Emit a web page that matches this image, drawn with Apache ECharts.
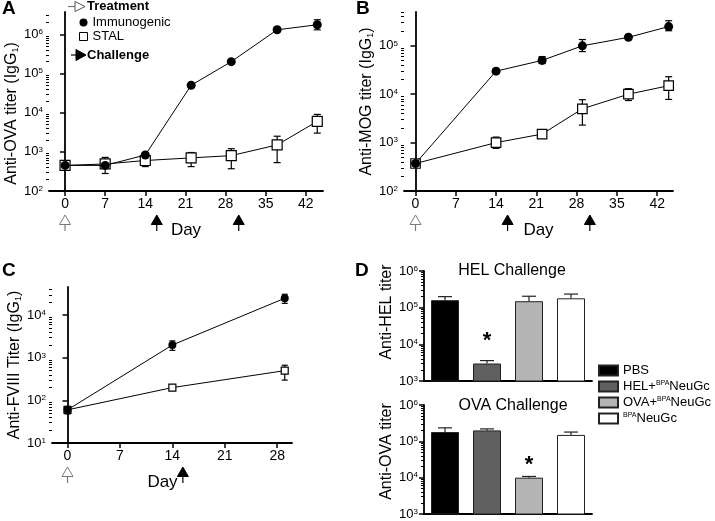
<!DOCTYPE html>
<html><head><meta charset="utf-8">
<script src="https://cdn.jsdelivr.net/npm/echarts@6/dist/echarts.min.js"></script>
<style>html,body{margin:0;padding:0;background:#fff}#c{width:715px;height:521px}</style>
</head><body><div id="c"></div>
<script>
const FONT = "'Liberation Sans', Arial, Helvetica, sans-serif";

// ---------- Panel A : anti-OVA ----------
const daysA = [0, 7, 14, 22, 29, 37, 44];
const immunoA = [450, 450, 830, 50000, 200000, 1300000, 1750000];
const immunoA_lo = [420, 400, 760, 45000, 185000, 1200000, 1300000];
const immunoA_hi = [480, 500, 900, 55000, 215000, 1400000, 2350000];
const stalA = [450, 490, 600, 700, 800, 1500, 6000];
const stalA_lo = [420, 280, 420, 420, 370, 530, 3000];
const stalA_hi = [480, 720, 950, 960, 1200, 2500, 9000];
const treatA = [0];
const challengeA = [16, 30.3];

// ---------- Panel B : anti-MOG ----------
const daysB = [0, 14, 22, 29, 37, 44];
const immunoB = [370, 30000, 50000, 100000, 150000, 250000];
const immunoB_lo = [340, 27000, 43000, 76000, 140000, 205000];
const immunoB_hi = [400, 33000, 60000, 135000, 160000, 330000];
const stalB = [370, 1000, 1500, 5000, 10000, 15000];
const stalB_lo = [340, 760, 1350, 2300, 7400, 7800];
const stalB_hi = [400, 1300, 1650, 7700, 13000, 23000];
const treatB = [0];
const challengeB = [16, 30.3];

// ---------- Panel C : anti-FVIII ----------
const daysC = [0, 14, 29];
const immunoC = [60, 2000, 25000];
const immunoC_lo = [48, 1500, 19000];
const immunoC_hi = [72, 2500, 31000];
const stalC = [60, 200, 500];
const stalC_lo = [50, 185, 300];
const stalC_hi = [70, 215, 670];
const treatC = [0];
const challengeC = [15.4];

// ---------- Panel D : bars ----------
const groupsD = ['PBS', 'HEL+BPANeuGc', 'OVA+BPANeuGc', 'BPANeuGc'];
const helChallenge = [160000, 3000, 150000, 180000];
const helChallenge_err = [200000, 3600, 205000, 235000];
const ovaChallenge = [180000, 200000, 10000, 150000];
const ovaChallenge_err = [235000, 220000, 10800, 180000];
const starHEL = [null, 12000, null, null];
const starOVA = [null, null, 22000, null];

const dayTicks42 = [0, 7, 14, 21, 28, 35, 42];
const dayTicks28 = [0, 7, 14, 21, 28];
const dColors = ['#000000', '#606060', '#b4b4b4', '#ffffff'];

function decades(lo, hi) { const a = []; for (let e = lo; e <= hi; e++) a.push(Math.pow(10, e)); return a; }
function minors(lo, hi, max) { const a = []; for (let e = lo; e <= hi; e++) for (let k = 2; k <= 9; k++) { const v = k * Math.pow(10, e); if (v <= max) a.push(v); } return a; }
function supLabel(v) { return '10{s|' + Math.round(Math.log10(v)) + '}'; }

function majorY(grid, min, max, lo, hi, name, gap, pad) {
  return {
    type: 'log', logBase: 10, gridIndex: grid, position: 'left', min: min, max: max,
    name: name, nameLocation: 'middle', nameRotate: 90, nameGap: gap,
    nameTextStyle: { fontSize: 16, color: '#000', fontFamily: FONT, padding: pad,
      rich: { sub: { fontSize: 9, verticalAlign: 'bottom', fontFamily: FONT, color: '#000' } } },
    axisLine: { show: true, lineStyle: { color: '#000', width: 1.8 } },
    axisTick: { show: true, customValues: decades(lo, hi), length: 5, lineStyle: { color: '#000', width: 1.5 } },
    axisLabel: { customValues: decades(lo, hi), formatter: supLabel, fontSize: 13, color: '#000', fontFamily: FONT, margin: 6,
      rich: { s: { fontSize: 8, verticalAlign: 'top', fontFamily: FONT, color: '#000' } } },
    splitLine: { show: false }
  };
}
function minorY(grid, min, max, lo, hi) {
  return {
    type: 'log', logBase: 10, gridIndex: grid, position: 'left', offset: 0, min: min, max: max,
    axisLine: { show: false },
    axisTick: { show: true, customValues: minors(lo, hi, max), length: 3, lineStyle: { color: '#000', width: 1 } },
    axisLabel: { show: false }, splitLine: { show: false }
  };
}
function dayX(grid, min, max, ticks, pad) {
  return {
    type: 'value', gridIndex: grid, min: min, max: max,
    name: 'Day', nameLocation: 'middle', nameGap: 31,
    nameTextStyle: { fontSize: 17, color: '#000', fontFamily: FONT, padding: pad },
    axisLine: { onZero: false, lineStyle: { color: '#000', width: 1.8 } },
    axisTick: { customValues: ticks, length: 5, lineStyle: { color: '#000', width: 1.5 } },
    axisLabel: { customValues: ticks, fontSize: 14, color: '#000', fontFamily: FONT, margin: 6 },
    splitLine: { show: false }
  };
}
function catX(grid) {
  return {
    type: 'category', gridIndex: grid, data: groupsD,
    axisLine: { lineStyle: { color: '#000', width: 1.8 } },
    axisTick: { show: false }, axisLabel: { show: false }, splitLine: { show: false }
  };
}
function errSeries(xi, yi, days, lo, hi, capW) {
  return {
    type: 'custom', xAxisIndex: xi, yAxisIndex: yi, z: 1, silent: true, clip: false,
    data: days.map((d, i) => [d, lo[i], hi[i]]), encode: { x: 0, y: [1, 2] },
    renderItem: (p, api) => {
      const x = api.value(0), a = api.coord([x, api.value(1)]), b = api.coord([x, api.value(2)]);
      const w = capW / 2, st = { stroke: '#000', lineWidth: 1.2 };
      return { type: 'group', children: [
        { type: 'line', shape: { x1: a[0], y1: a[1], x2: b[0], y2: b[1] }, style: st },
        { type: 'line', shape: { x1: a[0] - w, y1: a[1], x2: a[0] + w, y2: a[1] }, style: st },
        { type: 'line', shape: { x1: b[0] - w, y1: b[1], x2: b[0] + w, y2: b[1] }, style: st }] };
    }
  };
}
function errUp(xi, yi, vals, errs, capW) {
  return {
    type: 'custom', xAxisIndex: xi, yAxisIndex: yi, z: 1, silent: true, clip: false,
    data: vals.map((v, i) => [i, v, errs[i]]), encode: { x: 0, y: [1, 2] },
    renderItem: (p, api) => {
      const i = api.value(0), a = api.coord([i, api.value(1)]), b = api.coord([i, api.value(2)]);
      const w = capW / 2, st = { stroke: '#222', lineWidth: 1.2 };
      return { type: 'group', children: [
        { type: 'line', shape: { x1: a[0], y1: a[1], x2: b[0], y2: b[1] }, style: st },
        { type: 'line', shape: { x1: b[0] - w, y1: b[1], x2: b[0] + w, y2: b[1] }, style: st }] };
    }
  };
}
function starSeries(xi, yi, stars) {
  const data = [];
  stars.forEach((v, i) => { if (v != null) data.push([i, v]); });
  return {
    type: 'custom', xAxisIndex: xi, yAxisIndex: yi, z: 4, silent: true, clip: false,
    data: data, encode: { x: 0, y: 1 },
    renderItem: (p, api) => {
      const c = api.coord([api.value(0), api.value(1)]);
      return { type: 'text', x: c[0], y: c[1], style: { text: '*', fill: '#000', font: 'bold 22px ' + FONT, align: 'center', verticalAlign: 'middle' } };
    }
  };
}
function lineSeries(name, xi, yi, days, vals, symbol, size, filled, z) {
  return {
    type: 'line', name: name, xAxisIndex: xi, yAxisIndex: yi, z: z,
    data: days.map((d, i) => [d, vals[i]]),
    symbol: symbol, symbolSize: size, showSymbol: true, showAllSymbol: true,
    lineStyle: { color: '#000', width: 1 },
    itemStyle: filled ? { color: '#000' } : { color: '#fff', borderColor: '#000', borderWidth: 1.2 },
    emphasis: { disabled: true }
  };
}
function arrowSeries(xi, yi, yMin, tDays, cDays) {
  const data = tDays.map(d => [d, yMin, 0]).concat(cDays.map(d => [d, yMin, 1]));
  return {
    type: 'custom', xAxisIndex: xi, yAxisIndex: yi, clip: false, silent: true,
    data: data, encode: { x: 0, y: 1 },
    renderItem: (p, api) => {
      const c = api.coord([api.value(0), api.value(1)]), x = c[0], y = c[1];
      const open = api.value(2) === 0, col = open ? '#7a7a7a' : '#000';
      return { type: 'group', children: [
        { type: 'line', shape: { x1: x, y1: y + 33, x2: x, y2: y + 40 }, style: { stroke: col, lineWidth: 1.2 } },
        { type: 'polygon', shape: { points: [[x, y + 24], [x - 5.5, y + 33.5], [x + 5.5, y + 33.5]] },
          style: { fill: open ? '#fff' : '#000', stroke: col, lineWidth: 1 } }] };
    }
  };
}
function barSeries(xi, yi, vals) {
  return groupsD.map((g, i) => ({
    type: 'bar', name: g, xAxisIndex: xi, yAxisIndex: yi, barWidth: 28, barGap: '-100%', z: 2,
    data: vals.map((v, j) => (j === i ? v : '-')),
    itemStyle: { color: dColors[i], borderColor: '#222', borderWidth: 1 },
    emphasis: { disabled: true }
  }));
}

const chart = echarts.init(document.getElementById('c'));
const option = {
  animation: false,
  backgroundColor: '#fff',
  textStyle: { fontFamily: FONT },
  grid: [
    { left: 49, top: 12, width: 274, height: 179 },
    { left: 404, top: 12, width: 269, height: 179 },
    { left: 52, top: 287, width: 240, height: 156 },
    { left: 424, top: 271, width: 168, height: 110 },
    { left: 424, top: 405, width: 168, height: 109 }
  ],
  xAxis: [
    dayX(0, -2.8, 45, dayTicks42, [0, 0, 0, 0]),
    dayX(1, -2, 44.75, dayTicks42, [0, 0, 0, 0]),
    dayX(2, -2.07, 29.97, dayTicks28, [0, 19, 0, 0]),
    catX(3), catX(4)
  ],
  yAxis: [
    majorY(0, 100, 3.7e6, 2, 6, 'Anti-OVA titer (IgG{sub|1})', 29, [0, 24, 0, 0]),
    minorY(0, 100, 3.7e6, 2, 6),
    majorY(1, 100, 5e5, 2, 5, 'Anti-MOG titer (IgG{sub|1})', 29, [0, 0, 0, 0]),
    minorY(1, 100, 5e5, 2, 5),
    majorY(2, 10, 4.6e4, 1, 4, 'Anti-FVIII Titer (IgG{sub|1})', 29, [0, 0, 0, 0]),
    minorY(2, 10, 4.6e4, 1, 4),
    majorY(3, 1e3, 1e6, 3, 6, 'Anti-HEL titer', 29, [0, 0, 0, 28]),
    minorY(3, 1e3, 1e6, 3, 5),
    majorY(4, 1e3, 1e6, 3, 6, 'Anti-OVA titer', 29, [0, 0, 0, 16]),
    minorY(4, 1e3, 1e6, 3, 5)
  ],
  legend: [
    {
      left: 79, top: 16, padding: 0, orient: 'vertical', itemWidth: 8, itemHeight: 8, itemGap: 1, selectedMode: false,
      data: [
        { name: 'Immunogenic', icon: 'circle', itemStyle: { color: '#000' } },
        { name: 'STAL', icon: 'rect', itemStyle: { color: '#fff', borderColor: '#000', borderWidth: 1 } }
      ],
      textStyle: { fontSize: 13, color: '#000', fontFamily: FONT }
    },
    {
      left: 598, top: 364, padding: 0, orient: 'vertical', itemWidth: 19, itemHeight: 10, itemGap: 3, selectedMode: false,
      data: groupsD.map(n => ({ name: n, icon: 'rect' })),
      formatter: n => n.replace('BPA', '{s|BPA}'),
      textStyle: { fontSize: 13, color: '#000', fontFamily: FONT,
        rich: { s: { fontSize: 7, verticalAlign: 'top', fontFamily: FONT, color: '#000' } } }
    }
  ],
  title: [
    { text: 'HEL Challenge', left: 512, top: 263, textAlign: 'center', padding: 0,
      textStyle: { fontSize: 16, fontWeight: 'normal', color: '#000', fontFamily: FONT } },
    { text: 'OVA Challenge', left: 513, top: 398, textAlign: 'center', padding: 0,
      textStyle: { fontSize: 16, fontWeight: 'normal', color: '#000', fontFamily: FONT } }
  ],
  graphic: [
    { type: 'text', x: 2, y: -1, style: { text: 'A', font: 'bold 19px ' + FONT, fill: '#000' } },
    { type: 'text', x: 356, y: -1, style: { text: 'B', font: 'bold 19px ' + FONT, fill: '#000' } },
    { type: 'text', x: 2, y: 261, style: { text: 'C', font: 'bold 19px ' + FONT, fill: '#000' } },
    { type: 'text', x: 355, y: 261, style: { text: 'D', font: 'bold 19px ' + FONT, fill: '#000' } },
    { type: 'line', shape: { x1: 68, y1: 6.5, x2: 75, y2: 6.5 }, style: { stroke: '#777', lineWidth: 1.2 } },
    { type: 'polygon', shape: { points: [[75, 1.5], [75, 11.5], [85, 6.5]] }, style: { fill: '#fff', stroke: '#555', lineWidth: 1 } },
    { type: 'text', x: 87, y: 6.5, style: { text: 'Treatment', font: 'bold 13px ' + FONT, fill: '#000', verticalAlign: 'middle' } },
    { type: 'line', shape: { x1: 71, y1: 55, x2: 77, y2: 55 }, style: { stroke: '#000', lineWidth: 1.2 } },
    { type: 'polygon', shape: { points: [[76, 49.5], [76, 60.5], [86, 55]] }, style: { fill: '#000', stroke: '#000', lineWidth: 1 } },
    { type: 'text', x: 87, y: 55, style: { text: 'Challenge', font: 'bold 13px ' + FONT, fill: '#000', verticalAlign: 'middle' } }
  ],
  series: [
    errSeries(0, 0, daysA, immunoA_lo, immunoA_hi, 7),
    errSeries(0, 0, daysA, stalA_lo, stalA_hi, 7),
    lineSeries('STAL', 0, 0, daysA, stalA, 'rect', 10, false, 3),
    lineSeries('Immunogenic', 0, 0, daysA, immunoA, 'circle', 9, true, 4),
    arrowSeries(0, 0, 100, treatA, challengeA),

    errSeries(1, 2, daysB, immunoB_lo, immunoB_hi, 7),
    errSeries(1, 2, daysB, stalB_lo, stalB_hi, 7),
    lineSeries('STAL', 1, 2, daysB, stalB, 'rect', 9.5, false, 3),
    lineSeries('Immunogenic', 1, 2, daysB, immunoB, 'circle', 9, true, 4),
    arrowSeries(1, 2, 100, treatB, challengeB),

    errSeries(2, 4, daysC, immunoC_lo, immunoC_hi, 6),
    errSeries(2, 4, daysC, stalC_lo, stalC_hi, 6),
    lineSeries('STAL', 2, 4, daysC, stalC, 'rect', 7, false, 3),
    lineSeries('Immunogenic', 2, 4, daysC, immunoC, 'circle', 8, true, 4),
    arrowSeries(2, 4, 10, treatC, challengeC),

    ...barSeries(3, 6, helChallenge),
    errUp(3, 6, helChallenge, helChallenge_err, 14),
    starSeries(3, 6, starHEL),
    ...barSeries(4, 8, ovaChallenge),
    errUp(4, 8, ovaChallenge, ovaChallenge_err, 14),
    starSeries(4, 8, starOVA)
  ]
};
chart.setOption(option);
</script></body></html>
